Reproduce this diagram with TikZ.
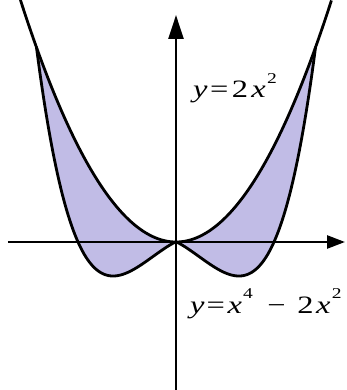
\documentclass[tikz,border=0pt]{standalone}
\usepackage{fontspec}
\setmainfont{Liberation Serif}
\usetikzlibrary{arrows.meta}
\definecolor{fillv}{RGB}{193,188,230}
\newcommand{\supr}[1]{\raisebox{14.5pt}{\fontsize{15}{15}\selectfont #1}}
\begin{document}
\begin{tikzpicture}[x=1pt,y=1pt,
  curve/.style={line width=2.8pt,line join=round},
  axis/.style={line width=2.6pt},
  lbl/.style={anchor=base west,inner sep=0pt,font=\fontsize{25}{29}\selectfont},
  declare function={qr(\u)=84.6*(\u*\u*\u*\u*pow(\u,-0.2)-\u*pow(\u,0.2));}]
\useasboundingbox (-176,-148) rectangle (171,242);
% filled region
\fill[fillv] plot[domain=-1.396:1.396,samples=120] ({100*\x},{100*\x*\x})
  -- plot[domain=1.4245:0.002,samples=80] ({98*\x},{qr(\x)})
  -- (0,0)
  -- plot[domain=0.002:1.4245,samples=80] ({-98*\x},{qr(\x)})
  -- cycle;
% axes
\coordinate (xs) at (-168,0);
\coordinate (xe) at (169,0);
\coordinate (ys) at (0,-150);
\coordinate (ye) at (0,227);
\draw[axis,-{Triangle[length=18pt,width=13pt]}] (xs) -- (xe);
\draw[axis,-{Triangle[length=24pt,width=15pt]}] (ys) -- (ye);
% curves
\draw[curve] plot[domain=-1.556:1.556,samples=150] ({100*\x},{100*\x*\x});
\draw[curve] plot[domain=1.4245:0.002,samples=80] ({-98*\x},{qr(\x)})
  -- (0,0) -- plot[domain=0.002:1.4245,samples=80] ({98*\x},{qr(\x)});
% labels
\node[lbl] (l1) at (17,144) {\scalebox{1.3}[1]{\textit{y}\hspace{2pt}=\hspace{2.5pt}2\hspace{2.5pt}\textit{x}\hspace{1pt}\supr{2}}};
\node[lbl] (l2) at (14,-71) {\scalebox{1.3}[1]{\textit{y}\hspace{1.5pt}=\hspace{2pt}\textit{x}\hspace{1pt}\supr{4}\hspace{11pt}−\hspace{9pt}2\hspace{2pt}\textit{x}\hspace{1pt}\supr{2}}};
\end{tikzpicture}
\end{document}
